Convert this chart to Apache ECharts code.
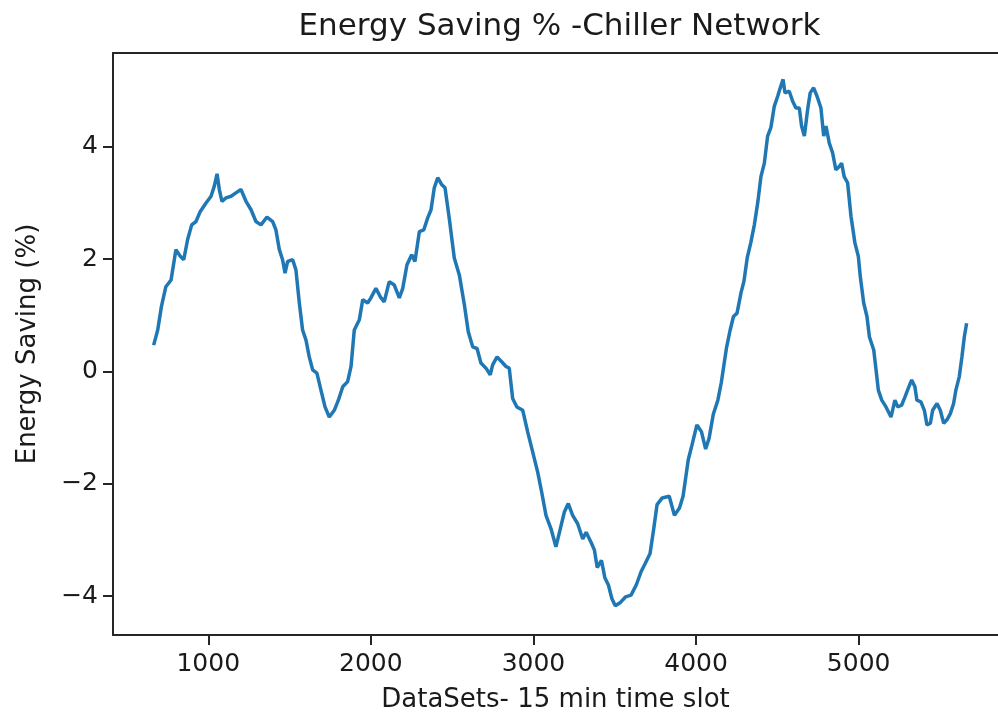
<!DOCTYPE html>
<html>
<head>
<meta charset="utf-8">
<script src="https://cdn.jsdelivr.net/npm/echarts@6.0.0/dist/echarts.min.js"></script>
<style>
html,body{margin:0;padding:0;background:#fff;}
#chart{width:998px;height:720px;}
</style>
</head>
<body>
<div id="chart"></div>
<script>
// ---- data ----
const xSlots = [
  664,689,712,739,771,801,828,849,873,898,924,951,986,1017,1037,1054,1068,1084,1109,1140,
  1170,1201,1232,1263,1293,1324,1361,1396,1416,1437,1457,1472,1488,1519,1539,1560,1580,1601,1621,1642,
  1668,1693,1718,1744,1775,1800,1827,1857,1878,1898,1929,1950,1980,
  2000,2031,2058,2082,2113,2144,2175,2196,2222,2251,2271,2298,2325,2349,2370,2390,2411,2435,2456,2482,
  2513,2544,2575,2599,2626,2653,2677,2708,2734,2749,2776,2806,2831,2851,2872,2898,2934,2964,2995,3026,
  3050,3077,3108,3138,3165,3190,3214,3241,3272,3303,3324,3354,
  3375,3392,3418,3439,3461,3482,3503,3535,3567,3600,3632,3664,3685,3717,3739,3760,3792,3835,3867,3898,
  3920,3952,3974,4005,4033,4059,4080,4106,4134,4155,4187,4209,4230,4252,4277,4294,4315,4337,4359,4380,
  4399,4420,4440,4460,4481,4502,4518,4535,4547,4573,4594,4614,4635,4649,4666,4686,4702,4723,4744,4768,
  4785,4799,4819,4840,4860,4881,4895,4911,4932,4953,4977,4998,5010,5031,5051,5066,5093,5107,5121,5142,
  5168,5199,5223,5240,5264,5285,5305,5326,5346,5358,5383,5404,5420,5441,5455,5482,5502,5523,5543,5564,
  5584,5598,5619,5635,5650,5664
];
const savingPct = [
  0.47,0.74,1.16,1.51,1.63,2.17,2.05,1.99,2.35,2.61,2.67,2.85,3.0,3.12,3.30,3.52,3.24,3.03,3.09,3.12,
  3.18,3.24,3.03,2.88,2.67,2.61,2.75,2.67,2.52,2.17,1.99,1.75,1.96,1.99,1.81,1.22,0.74,0.56,0.26,0.03,
  -0.03,-0.33,-0.63,-0.81,-0.69,-0.51,-0.27,-0.18,0.09,0.74,0.92,1.28,1.22,
  1.31,1.48,1.33,1.24,1.60,1.54,1.31,1.48,1.90,2.08,1.96,2.49,2.52,2.73,2.88,3.27,3.45,3.33,3.27,2.73,
  2.02,1.72,1.19,0.71,0.44,0.41,0.15,0.06,-0.06,0.12,0.26,0.17,0.09,0.06,-0.48,-0.63,-0.69,-1.07,-1.43,-1.79,
  -2.14,-2.56,-2.80,-3.12,-2.80,-2.50,-2.35,-2.56,-2.71,-2.98,-2.86,-3.04,
  -3.18,-3.49,-3.36,-3.67,-3.80,-4.04,-4.17,-4.11,-4.01,-3.98,-3.80,-3.55,-3.43,-3.24,-2.81,-2.37,-2.25,-2.22,-2.56,-2.43,
  -2.22,-1.57,-1.32,-0.95,-1.07,-1.38,-1.19,-0.76,-0.51,-0.20,0.42,0.73,0.98,1.04,1.41,1.60,2.03,2.30,2.62,3.02,
  3.47,3.71,4.19,4.34,4.72,4.90,5.05,5.20,4.96,4.99,4.81,4.69,4.69,4.37,4.19,4.66,4.96,5.05,4.90,4.69,
  4.19,4.37,4.07,3.89,3.59,3.65,3.71,3.47,3.36,2.76,2.29,2.05,1.69,1.22,0.98,0.62,0.38,0.03,-0.33,-0.51,
  -0.63,-0.81,-0.51,-0.63,-0.60,-0.45,-0.30,-0.15,-0.27,-0.51,-0.54,-0.69,-0.95,-0.92,-0.69,-0.57,-0.69,-0.92,-0.86,-0.75,
  -0.57,-0.33,-0.09,0.26,0.62,0.86
];
const xTicks = [1000, 2000, 3000, 4000, 5000];
const yTicks = [-4, -2, 0, 2, 4];
const titleText = 'Energy Saving % -Chiller Network';
const xName = 'DataSets- 15 min time slot';
const yName = 'Energy Saving (%)';

// ---- chart ----
const FONT = 'DejaVu Sans';
const INK = '#1a1a1a';
const SPINE = '#262626';
const X_MIN = 414, X_MAX = 5857;
const points = xSlots.map((x, i) => [x, savingPct[i]]);
const fmt = v => String(v).replace('-', '\u2212');

const chart = echarts.init(document.getElementById('chart'), null, {renderer: 'canvas'});
chart.setOption({
  animation: false,
  backgroundColor: '#ffffff',
  graphic: [{
    type: 'text',
    x: 559.5,
    y: 27,
    style: {
      text: titleText,
      fontFamily: FONT,
      fontSize: 31,
      fill: INK,
      textAlign: 'center',
      textVerticalAlign: 'middle'
    }
  }],
  grid: {
    left: 113, top: 53, right: 0, bottom: 85,
    show: false,
    containLabel: false
  },
  xAxis: [{
    type: 'value',
    position: 'bottom',
    min: X_MIN, max: X_MAX,
    name: xName,
    nameLocation: 'middle',
    nameGap: 52,
    nameTextStyle: {fontFamily: FONT, fontSize: 26, color: INK},
    axisLine: {show: true, onZero: false, lineStyle: {color: SPINE, width: 2}},
    axisTick: {show: true, inside: false, length: 10, customValues: xTicks, lineStyle: {color: SPINE, width: 2}},
    axisLabel: {customValues: xTicks, margin: 17, fontFamily: FONT, fontSize: 25, color: INK, formatter: fmt},
    splitLine: {show: false}
  }, {
    type: 'value',
    position: 'top',
    min: X_MIN, max: X_MAX,
    axisLine: {show: true, onZero: false, lineStyle: {color: SPINE, width: 2}},
    axisTick: {show: false},
    axisLabel: {show: false},
    splitLine: {show: false}
  }],
  yAxis: {
    type: 'value',
    min: -4.69, max: 5.67,
    name: yName,
    nameLocation: 'middle',
    nameRotate: 90,
    nameGap: 72,
    nameTextStyle: {fontFamily: FONT, fontSize: 26, color: INK},
    axisLine: {show: true, onZero: false, lineStyle: {color: SPINE, width: 2}},
    axisTick: {show: true, inside: false, length: 10, customValues: yTicks, lineStyle: {color: SPINE, width: 2}},
    axisLabel: {customValues: yTicks, margin: 15, fontFamily: FONT, fontSize: 25, color: INK, formatter: fmt},
    splitLine: {show: false}
  },
  series: [{
    type: 'line',
    xAxisIndex: 0,
    data: points,
    showSymbol: false,
    symbol: 'none',
    smooth: false,
    lineStyle: {color: '#1f77b4', width: 3.5},
    itemStyle: {color: '#1f77b4'},
    clip: true
  }]
});
</script>
</body>
</html>
